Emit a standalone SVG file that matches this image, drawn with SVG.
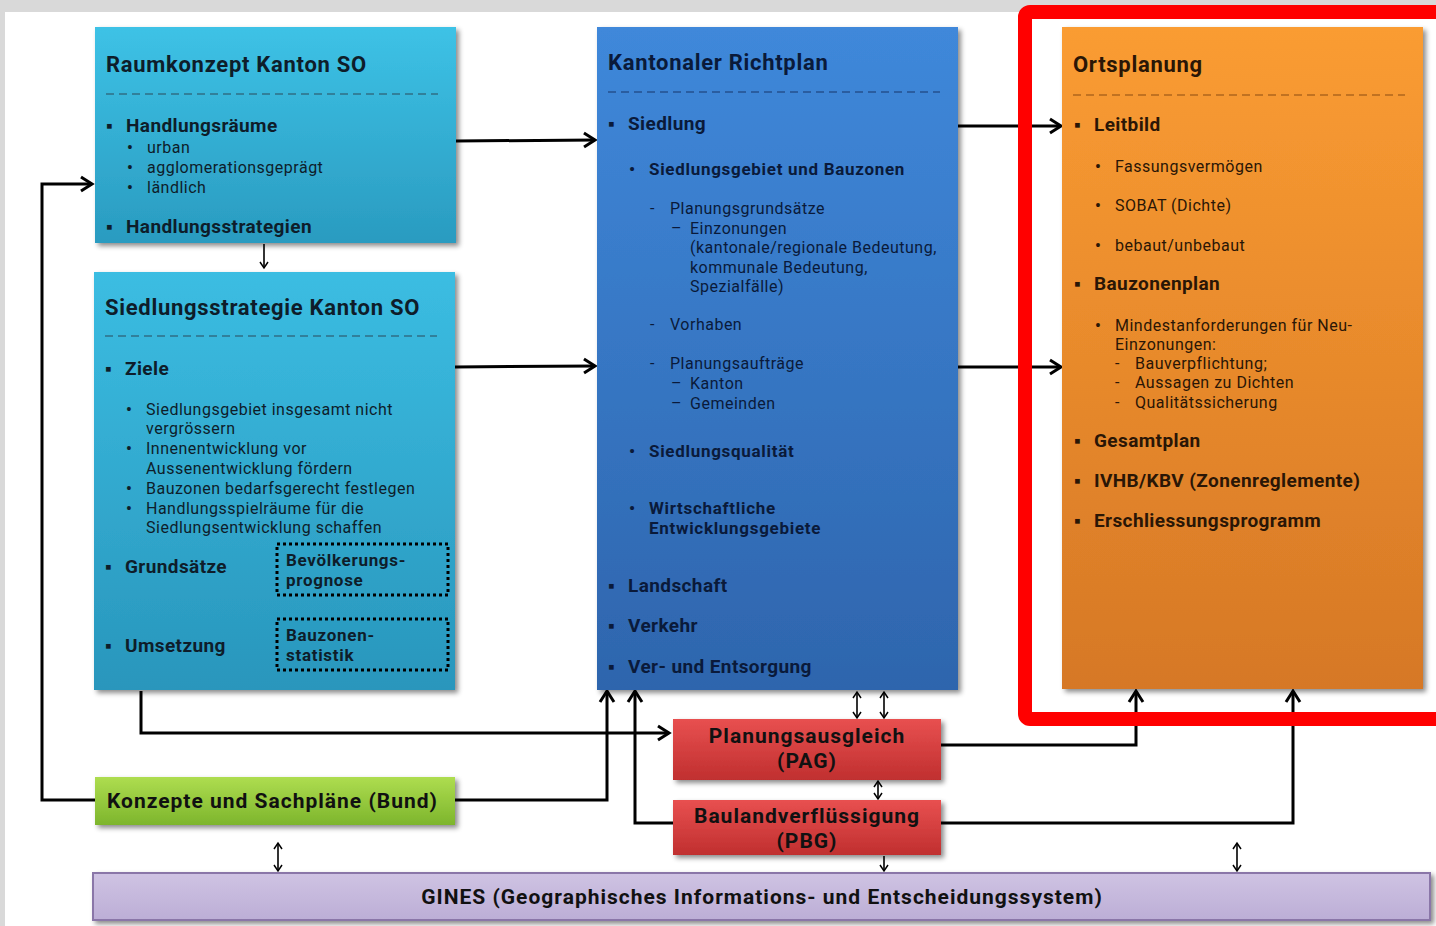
<svg xmlns="http://www.w3.org/2000/svg" width="1436" height="926" viewBox="0 0 1436 926">
<style>
text{font-family:Roboto,"Liberation Sans",sans-serif;}
.t{font-weight:700;font-size:22px;letter-spacing:0.7px;}
.b1{font-weight:700;font-size:19px;letter-spacing:0.4px;}
.b2{font-weight:700;font-size:17px;letter-spacing:0.7px;}
.n{font-size:16px;letter-spacing:0.5px;}
.bu{font-weight:700;}
.cy{fill:#0e1d2a;}
.bl{fill:#0a1a3a;}
.or{fill:#2a1606;}
.dash{stroke-width:1.3;stroke-dasharray:8 5;fill:none;}
.con{fill:none;stroke:#000;stroke-width:3;stroke-linejoin:miter;}
.thin{fill:none;stroke:#000;stroke-width:1.6;}
.dot{fill:none;stroke:#000;stroke-width:3;stroke-dasharray:3 3;}
.lab{font-weight:700;font-size:21px;letter-spacing:1px;fill:#111;}
</style>
<defs>
<filter id="sh" x="-10%" y="-10%" width="130%" height="130%">
<feDropShadow dx="3" dy="3" stdDeviation="2.5" flood-color="#000" flood-opacity="0.45"/>
</filter>
<linearGradient id="gCy" x1="0" y1="0" x2="0" y2="1"><stop offset="0" stop-color="#3dc2e6"/><stop offset="1" stop-color="#2a9bc0"/></linearGradient>
<linearGradient id="gCy2" x1="0" y1="0" x2="0" y2="1"><stop offset="0" stop-color="#3bbde2"/><stop offset="1" stop-color="#2996bc"/></linearGradient>
<linearGradient id="gBl" x1="0" y1="0" x2="0" y2="1"><stop offset="0" stop-color="#3f88da"/><stop offset="1" stop-color="#2e65ad"/></linearGradient>
<linearGradient id="gOr" x1="0" y1="0" x2="0" y2="1"><stop offset="0" stop-color="#fa9c32"/><stop offset="1" stop-color="#d67826"/></linearGradient>
<linearGradient id="gRd" x1="0" y1="0" x2="0" y2="1"><stop offset="0" stop-color="#e85050"/><stop offset="1" stop-color="#c02f2f"/></linearGradient>
<linearGradient id="gGr" x1="0" y1="0" x2="0" y2="1"><stop offset="0" stop-color="#aedd50"/><stop offset="1" stop-color="#7db52c"/></linearGradient>
<linearGradient id="gPu" x1="0" y1="0" x2="0" y2="1"><stop offset="0" stop-color="#cfc3e3"/><stop offset="1" stop-color="#bcaed6"/></linearGradient>
<marker id="ah" markerUnits="userSpaceOnUse" viewBox="0 0 20 20" markerWidth="20" markerHeight="20" refX="16" refY="10" orient="auto">
<path d="M5,3 L16,10 L5,17" fill="none" stroke="#000" stroke-width="3"/>
</marker>
<marker id="at" markerUnits="userSpaceOnUse" viewBox="0 0 12 12" markerWidth="12" markerHeight="12" refX="9" refY="6" orient="auto-start-reverse">
<path d="M3,2 L9,6 L3,10" fill="none" stroke="#000" stroke-width="1.5"/>
</marker>
</defs>

<rect x="0" y="0" width="1436" height="926" fill="#d9d9d9"/>
<rect x="5" y="12" width="1431" height="914" fill="#ffffff"/>

<g id="connectors">
<path class="con" d="M456,141 L595,140" marker-end="url(#ah)"/>
<path class="con" d="M455,367 L595,366" marker-end="url(#ah)"/>
<path class="con" d="M958,126 L1061,126" marker-end="url(#ah)"/>
<path class="con" d="M958,367 L1061,367" marker-end="url(#ah)"/>
<path class="thin" d="M264,244 L264,268" marker-end="url(#at)"/>
<path class="con" d="M95,800 L42,800 L42,184 L92,184" marker-end="url(#ah)"/>
<path class="con" d="M141,691 L141,733 L669,733" marker-end="url(#ah)"/>
<path class="con" d="M455,800 L607,800 L607,691" marker-end="url(#ah)"/>
<path class="con" d="M673,823 L635,823 L635,691" marker-end="url(#ah)"/>
<path class="con" d="M941,745 L1136,745 L1136,691" marker-end="url(#ah)"/>
<path class="con" d="M941,823 L1293,823 L1293,691" marker-end="url(#ah)"/>
<path class="thin" d="M857,692 L857,718" marker-start="url(#at)" marker-end="url(#at)"/>
<path class="thin" d="M884,692 L884,718" marker-start="url(#at)" marker-end="url(#at)"/>
<path class="thin" d="M878,781 L878,799" marker-start="url(#at)" marker-end="url(#at)"/>
<path class="thin" d="M884,856 L884,871" marker-end="url(#at)"/>
<path class="thin" d="M278,843 L278,871" marker-start="url(#at)" marker-end="url(#at)"/>
<path class="thin" d="M1237,843 L1237,871" marker-start="url(#at)" marker-end="url(#at)"/>
</g>

<g id="raumkonzept">
<rect x="95" y="27" width="361" height="216" fill="url(#gCy)" filter="url(#sh)"/>
<text class="t cy" x="106" y="72">Raumkonzept Kanton SO</text>
<line class="dash" x1="106" y1="94" x2="438" y2="94" stroke="#2f6f85"/>
<text class="b1 cy" x="106" y="132"><tspan>▪</tspan><tspan x="126">Handlungsräume</tspan></text>
<text class="n cy"><tspan class="bu" x="127" y="153">•</tspan><tspan x="147" y="153">urban</tspan><tspan class="bu" x="127" y="173">•</tspan><tspan x="147" y="173">agglomerationsgeprägt</tspan><tspan class="bu" x="127" y="193">•</tspan><tspan x="147" y="193">ländlich</tspan></text>
<text class="b1 cy" x="106" y="233"><tspan>▪</tspan><tspan x="126">Handlungsstrategien</tspan></text>
</g>

<g id="siedlungsstrategie">
<rect x="94" y="272" width="361" height="418" fill="url(#gCy2)" filter="url(#sh)"/>
<text class="t cy" x="105" y="315">Siedlungsstrategie Kanton SO</text>
<line class="dash" x1="105" y1="336" x2="437" y2="336" stroke="#2f6f85"/>
<text class="b1 cy" x="105" y="375"><tspan>▪</tspan><tspan x="125">Ziele</tspan></text>
<text class="n cy"><tspan class="bu" x="126" y="415">•</tspan><tspan x="146" y="415">Siedlungsgebiet insgesamt nicht</tspan><tspan x="146" y="434">vergrössern</tspan><tspan class="bu" x="126" y="454">•</tspan><tspan x="146" y="454">Innenentwicklung vor</tspan><tspan x="146" y="474">Aussenentwicklung fördern</tspan><tspan class="bu" x="126" y="494">•</tspan><tspan x="146" y="494">Bauzonen bedarfsgerecht festlegen</tspan><tspan class="bu" x="126" y="514">•</tspan><tspan x="146" y="514">Handlungsspielräume für die</tspan><tspan x="146" y="533">Siedlungsentwicklung schaffen</tspan></text>
<text class="b1 cy" x="105" y="573"><tspan>▪</tspan><tspan x="125">Grundsätze</tspan></text>
<text class="b1 cy" x="105" y="652"><tspan>▪</tspan><tspan x="125">Umsetzung</tspan></text>
</g>

<g id="bevoelkerungsprognose">
<rect class="dot" x="277" y="544" width="171" height="51"/>
<text class="b2 cy"><tspan x="286" y="566">Bevölkerungs-</tspan><tspan x="286" y="586">prognose</tspan></text>
</g>

<g id="bauzonenstatistik">
<rect class="dot" x="277" y="619" width="171" height="51"/>
<text class="b2 cy"><tspan x="286" y="641">Bauzonen-</tspan><tspan x="286" y="661">statistik</tspan></text>
</g>

<g id="richtplan">
<rect x="597" y="27" width="361" height="663" fill="url(#gBl)" filter="url(#sh)"/>
<text class="t bl" x="608" y="70">Kantonaler Richtplan</text>
<line class="dash" x1="608" y1="92" x2="940" y2="92" stroke="#24508e"/>
<text class="b1 bl" x="608" y="130"><tspan>▪</tspan><tspan x="628">Siedlung</tspan></text>
<text class="b2 bl" x="629" y="175"><tspan>•</tspan><tspan x="649">Siedlungsgebiet und Bauzonen</tspan></text>
<text class="n bl"><tspan x="650" y="214">-</tspan><tspan x="670" y="214">Planungsgrundsätze</tspan><tspan x="671" y="234">–</tspan><tspan x="690" y="234">Einzonungen</tspan><tspan x="690" y="253">(kantonale/regionale Bedeutung,</tspan><tspan x="690" y="273">kommunale Bedeutung,</tspan><tspan x="690" y="292">Spezialfälle)</tspan></text>
<text class="n bl" x="650" y="330"><tspan>-</tspan><tspan x="670">Vorhaben</tspan></text>
<text class="n bl"><tspan x="650" y="369">-</tspan><tspan x="670" y="369">Planungsaufträge</tspan><tspan x="671" y="389">–</tspan><tspan x="690" y="389">Kanton</tspan><tspan x="671" y="409">–</tspan><tspan x="690" y="409">Gemeinden</tspan></text>
<text class="b2 bl" x="629" y="457"><tspan>•</tspan><tspan x="649">Siedlungsqualität</tspan></text>
<text class="b2 bl"><tspan x="629" y="514">•</tspan><tspan x="649" y="514">Wirtschaftliche</tspan><tspan x="649" y="534">Entwicklungsgebiete</tspan></text>
<text class="b1 bl" x="608" y="592"><tspan>▪</tspan><tspan x="628">Landschaft</tspan></text>
<text class="b1 bl" x="608" y="632"><tspan>▪</tspan><tspan x="628">Verkehr</tspan></text>
<text class="b1 bl" x="608" y="673"><tspan>▪</tspan><tspan x="628">Ver- und Entsorgung</tspan></text>
</g>

<g id="ortsplanung">
<rect x="1062" y="27" width="361" height="662" fill="url(#gOr)" filter="url(#sh)"/>
<text class="t or" x="1073" y="72">Ortsplanung</text>
<line class="dash" x1="1073" y1="95" x2="1405" y2="95" stroke="#b0651c"/>
<text class="b1 or" x="1074" y="131"><tspan>▪</tspan><tspan x="1094">Leitbild</tspan></text>
<text class="n or" x="1095" y="172"><tspan class="bu">•</tspan><tspan x="1115">Fassungsvermögen</tspan></text>
<text class="n or" x="1095" y="211"><tspan class="bu">•</tspan><tspan x="1115">SOBAT (Dichte)</tspan></text>
<text class="n or" x="1095" y="251"><tspan class="bu">•</tspan><tspan x="1115">bebaut/unbebaut</tspan></text>
<text class="b1 or" x="1074" y="290"><tspan>▪</tspan><tspan x="1094">Bauzonenplan</tspan></text>
<text class="n or"><tspan class="bu" x="1095" y="331">•</tspan><tspan x="1115" y="331">Mindestanforderungen für Neu-</tspan><tspan x="1115" y="350">Einzonungen:</tspan><tspan x="1115" y="369">-</tspan><tspan x="1135" y="369">Bauverpflichtung;</tspan><tspan x="1115" y="388">-</tspan><tspan x="1135" y="388">Aussagen zu Dichten</tspan><tspan x="1115" y="408">-</tspan><tspan x="1135" y="408">Qualitätssicherung</tspan></text>
<text class="b1 or" x="1074" y="447"><tspan>▪</tspan><tspan x="1094">Gesamtplan</tspan></text>
<text class="b1 or" x="1074" y="487"><tspan>▪</tspan><tspan x="1094">IVHB/KBV (Zonenreglemente)</tspan></text>
<text class="b1 or" x="1074" y="527"><tspan>▪</tspan><tspan x="1094">Erschliessungsprogramm</tspan></text>
</g>

<g id="planungsausgleich">
<rect x="673" y="719" width="268" height="61" fill="url(#gRd)" filter="url(#sh)"/>
<text class="lab" text-anchor="middle"><tspan x="807" y="743">Planungsausgleich</tspan><tspan x="807" y="768">(PAG)</tspan></text>
</g>

<g id="baulandverfluessigung">
<rect x="673" y="800" width="268" height="55" fill="url(#gRd)" filter="url(#sh)"/>
<text class="lab" text-anchor="middle"><tspan x="807" y="823">Baulandverflüssigung</tspan><tspan x="807" y="848">(PBG)</tspan></text>
</g>

<g id="konzepte-bund">
<rect x="95" y="777" width="360" height="48" fill="url(#gGr)" filter="url(#sh)"/>
<text class="lab" x="107" y="808">Konzepte und Sachpläne (Bund)</text>
</g>

<g id="gines">
<rect x="93" y="873" width="1337" height="47" fill="url(#gPu)" stroke="#8a76a8" stroke-width="2" filter="url(#sh)"/>
<text class="lab" x="762" y="904" text-anchor="middle">GINES (Geographisches Informations- und Entscheidungssystem)</text>
</g>

<rect id="highlight" x="1025" y="12" width="440" height="707" rx="5" fill="none" stroke="#ff0000" stroke-width="14"/>
</svg>
